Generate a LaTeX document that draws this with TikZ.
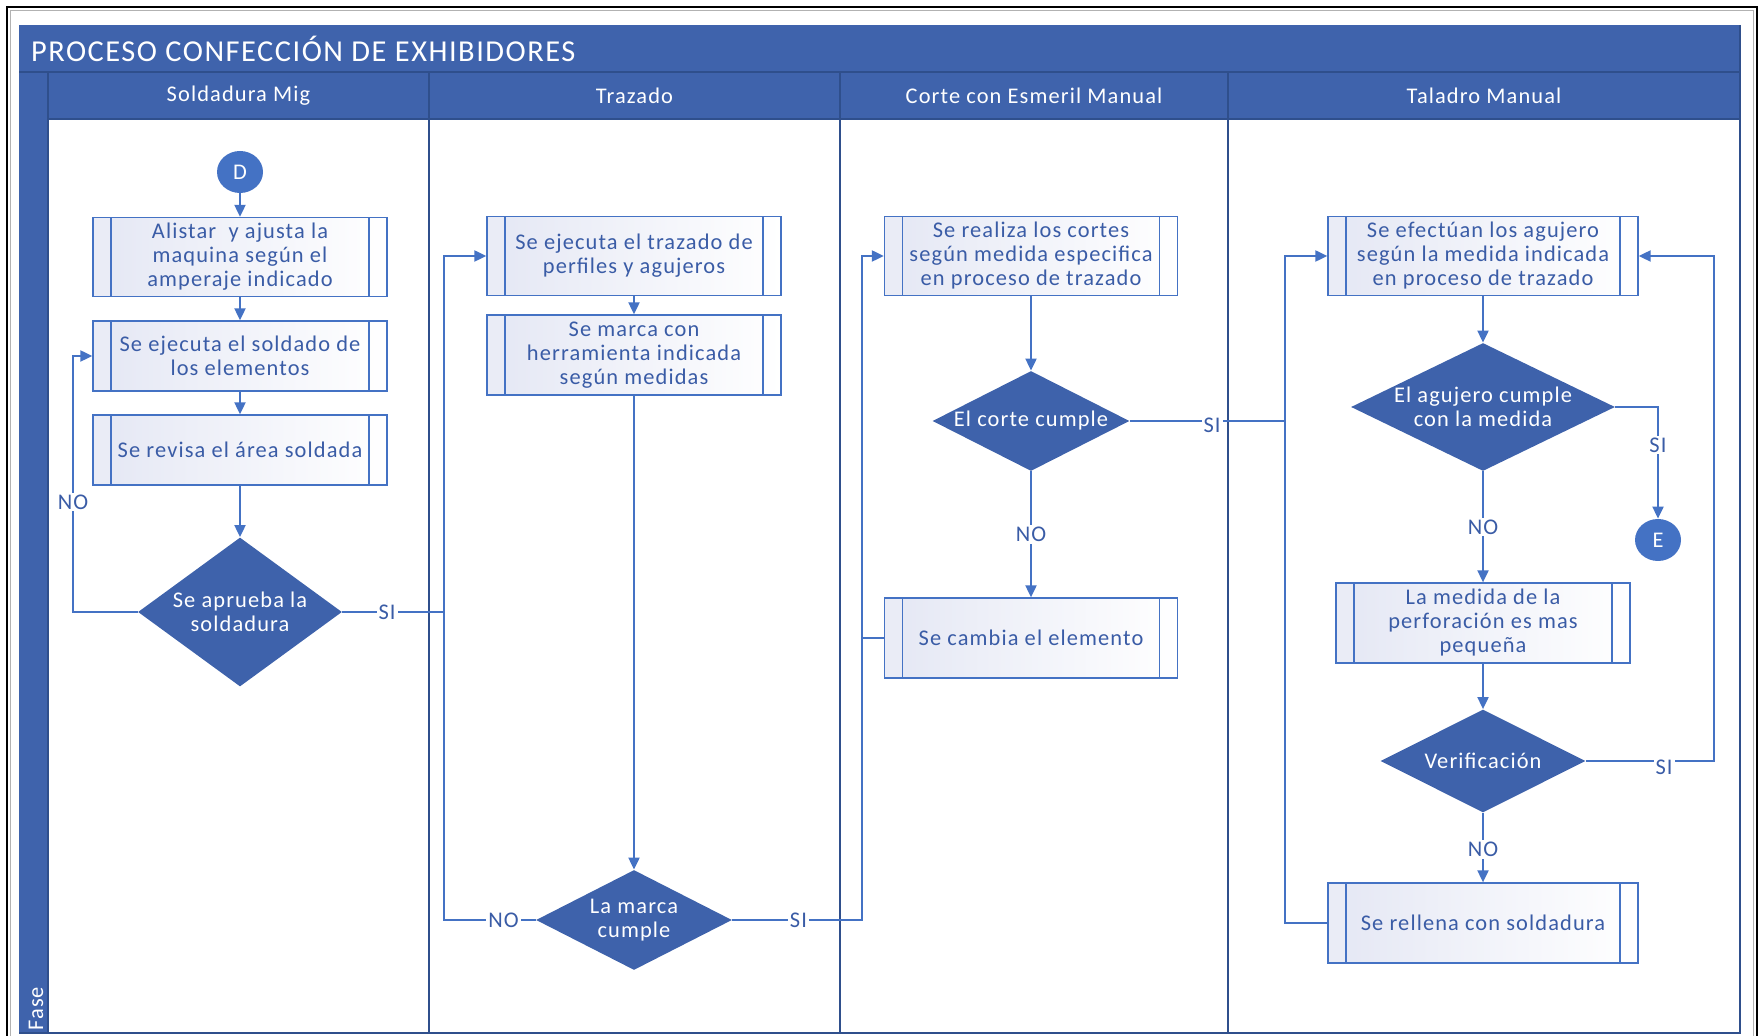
\documentclass[tikz,border=0pt]{standalone}
\usepackage{fontspec}
\setmainfont{Carlito}[LetterSpace=5]
\usetikzlibrary{shapes.geometric,arrows.meta}

\definecolor{poolblue}{HTML}{3F63AC}
\definecolor{poolline}{HTML}{2F4F8C}
\definecolor{linkblue}{HTML}{4472C4}
\definecolor{txtblue}{HTML}{3A5CA6}
\definecolor{boxtint}{HTML}{E4E7F4}
\definecolor{striptint}{HTML}{EAECF6}
\definecolor{diafill}{HTML}{3E62AB}

\tikzset{
  boxfont/.style={font=\fontsize{11.2}{12}\selectfont},
  procbox/.style={draw=linkblue, line width=0.65pt, rectangle, inner sep=0pt,
    align=center, text=txtblue, boxfont,
    left color=boxtint, right color=white,
    minimum height=39.5pt,
    path picture={
      \fill[striptint] (path picture bounding box.north west) rectangle
        ([xshift=9pt]path picture bounding box.south west);
      \draw[linkblue,line width=0.65pt] ([xshift=9pt]path picture bounding box.north west)
        -- ([xshift=9pt]path picture bounding box.south west);
      \draw[linkblue,line width=0.65pt] ([xshift=-9pt]path picture bounding box.north east)
        -- ([xshift=-9pt]path picture bounding box.south east);
    }},
  decision/.style={diamond, fill=diafill, draw=none, inner sep=0pt, text=white,
    align=center, boxfont},
  terminal/.style={ellipse, fill=linkblue, inner sep=0pt, minimum width=23pt,
    minimum height=21pt, text=white, boxfont},
  conn/.style={draw=linkblue, line width=1pt},
  flow/.style={conn, -{Triangle[length=6pt,width=5.5pt]}},
  tag/.style={fill=white, text=txtblue, inner sep=1pt, boxfont},
  headtext/.style={text=white, font=\fontsize{11.2}{13}\selectfont},
}

\begin{document}
\begin{tikzpicture}[x=0.5pt,y=-0.5pt]
\useasboundingbox (0,0) rectangle (1760,1036);

% page frame
\draw[line width=1.3pt] (7,7) rectangle (1757,1070);
\draw[gray!60, line width=0.4pt] (10.5,10.5) rectangle (1753.5,1070);

% swimlane pool: title band, lane headers and phase strip
\fill[poolblue] (19,25) rectangle (1740,119);
\fill[poolblue] (19,119) rectangle (48,1033);
\draw[poolline, line width=0.8pt] (19,72) -- (1740,72);
\draw[poolline, line width=0.8pt] (48,119) -- (1740,119);
\draw[poolline, line width=1pt] (48,72) -- (48,1033);
\foreach \lx in {429,840,1228}
  \draw[poolline, line width=1pt] (\lx,72) -- (\lx,1033);
\draw[poolline, line width=1pt] (1740,25) -- (1740,1033) -- (19,1033);

\node[headtext, font=\fontsize{15.2}{17}\selectfont, anchor=west] (title) at (24,48.5)
  {PROCESO CONFECCIÓN DE EXHIBIDORES};
\node[headtext] (lane1) at (238.5,95.5) {Soldadura Mig};
\node[headtext] (lane2) at (634.5,95.5) {Trazado};
\node[headtext] (lane3) at (1034,95.5) {Corte con Esmeril Manual};
\node[headtext] (lane4) at (1484,95.5) {Taladro Manual};
\node[headtext, rotate=90, anchor=west, inner sep=0pt] (phase) at (36,1031) {Fase};

% Soldadura Mig
\node[terminal] (D) at (240,172) {D};
\node[procbox, minimum width=147pt] (b1) at (240,257)
  {Alistar\ \ y ajusta la\\maquina según el\\amperaje indicado};
\node[procbox, minimum width=147pt, minimum height=35pt] (b2) at (240,356)
  {Se ejecuta el soldado de\\los elementos};
\node[procbox, minimum width=147pt, minimum height=35pt] (b3) at (240,450)
  {Se revisa el área soldada};
\node[decision, minimum width=102pt, minimum height=74.5pt, aspect=1.37] (q1) at (240,612)
  {Se aprueba la\\soldadura};

% Trazado
\node[procbox, minimum width=147pt] (t1) at (634,256)
  {Se ejecuta el trazado de\\perfiles y agujeros};
\node[procbox, minimum width=147pt, minimum height=40pt] (t2) at (634,355)
  {Se marca con\\herramienta indicada\\según medidas};
\node[decision, minimum width=98pt, minimum height=50pt, aspect=1.96] (q2) at (634,920)
  {La marca\\cumple};

% Corte con Esmeril Manual
\node[procbox, minimum width=146.5pt] (c1) at (1031,256)
  {Se realiza los cortes\\según medida especifica\\en proceso de trazado};
\node[decision, minimum width=98.5pt, minimum height=50pt, aspect=1.97] (q3) at (1031,421)
  {El corte cumple};
\node[procbox, minimum width=146.5pt, minimum height=40pt] (c2) at (1031,638)
  {Se cambia el elemento};

% Taladro Manual
\node[procbox, minimum width=155pt] (h1) at (1483,256)
  {Se efectúan los agujero\\según la medida indicada\\en proceso de trazado};
\node[decision, minimum width=132pt, minimum height=64pt, aspect=2.06] (q4) at (1483,407)
  {El agujero cumple\\con la medida};
\node[terminal] (E) at (1658,540) {E};
\node[procbox, minimum width=147pt, minimum height=40pt] (h2) at (1483,623)
  {La medida de la\\perforación es mas\\pequeña};
\node[decision, minimum width=102.5pt, minimum height=51.5pt, aspect=1.99] (q5) at (1483,761)
  {Verificación};
\node[procbox, minimum width=155pt, minimum height=40pt] (h3) at (1483,923)
  {Se rellena con soldadura};

% connectors
\draw[flow] (D) -- (b1);
\draw[flow] (b1) -- (b2);
\draw[flow] (b2) -- (b3);
\draw[flow] (b3) -- (q1);
\draw[flow] (q1.west) -- (73,612) -- node[tag,pos=0.43]{NO} (73,356) -- (b2.west);
\draw[conn] (q1.east) -- node[tag,pos=0.44]{SI} (444,612);
\draw[flow] (q2.west) -- node[tag,pos=0.35]{NO} (444,920) -- (444,256) -- (t1.west);

\draw[flow] (t1) -- (t2);
\draw[flow] (t2) -- (q2);
\draw[flow] (q2.east) -- node[tag,pos=0.51]{SI} (862,920) -- (862,256) -- (c1.west);
\draw[conn] (c2.west) -- (862,638);

\draw[flow] (c1) -- (q3);
\draw[flow] (q3) -- node[tag]{NO} (c2);
\draw[conn] (q3.east) -- node[tag,pos=0.53,yshift=-2pt]{SI} (1285,421);
\draw[flow] (h3.west) -- (1285,923) -- (1285,256) -- (h1.west);

\draw[flow] (h1) -- (q4);
\draw[flow] (q4.east) -| node[tag,pos=0.67]{SI} (E.north);
\draw[flow] (q4) -- node[tag]{NO} (h2);
\draw[flow] (h2) -- (q5);
\draw[flow] (q5.east) -- node[tag,pos=0.61,yshift=-3pt]{SI} (1714,761) -- (1714,256) -- (h1.east);
\draw[flow] (q5) -- node[tag,pos=0.53]{NO} (h3);
\end{tikzpicture}
\end{document}
